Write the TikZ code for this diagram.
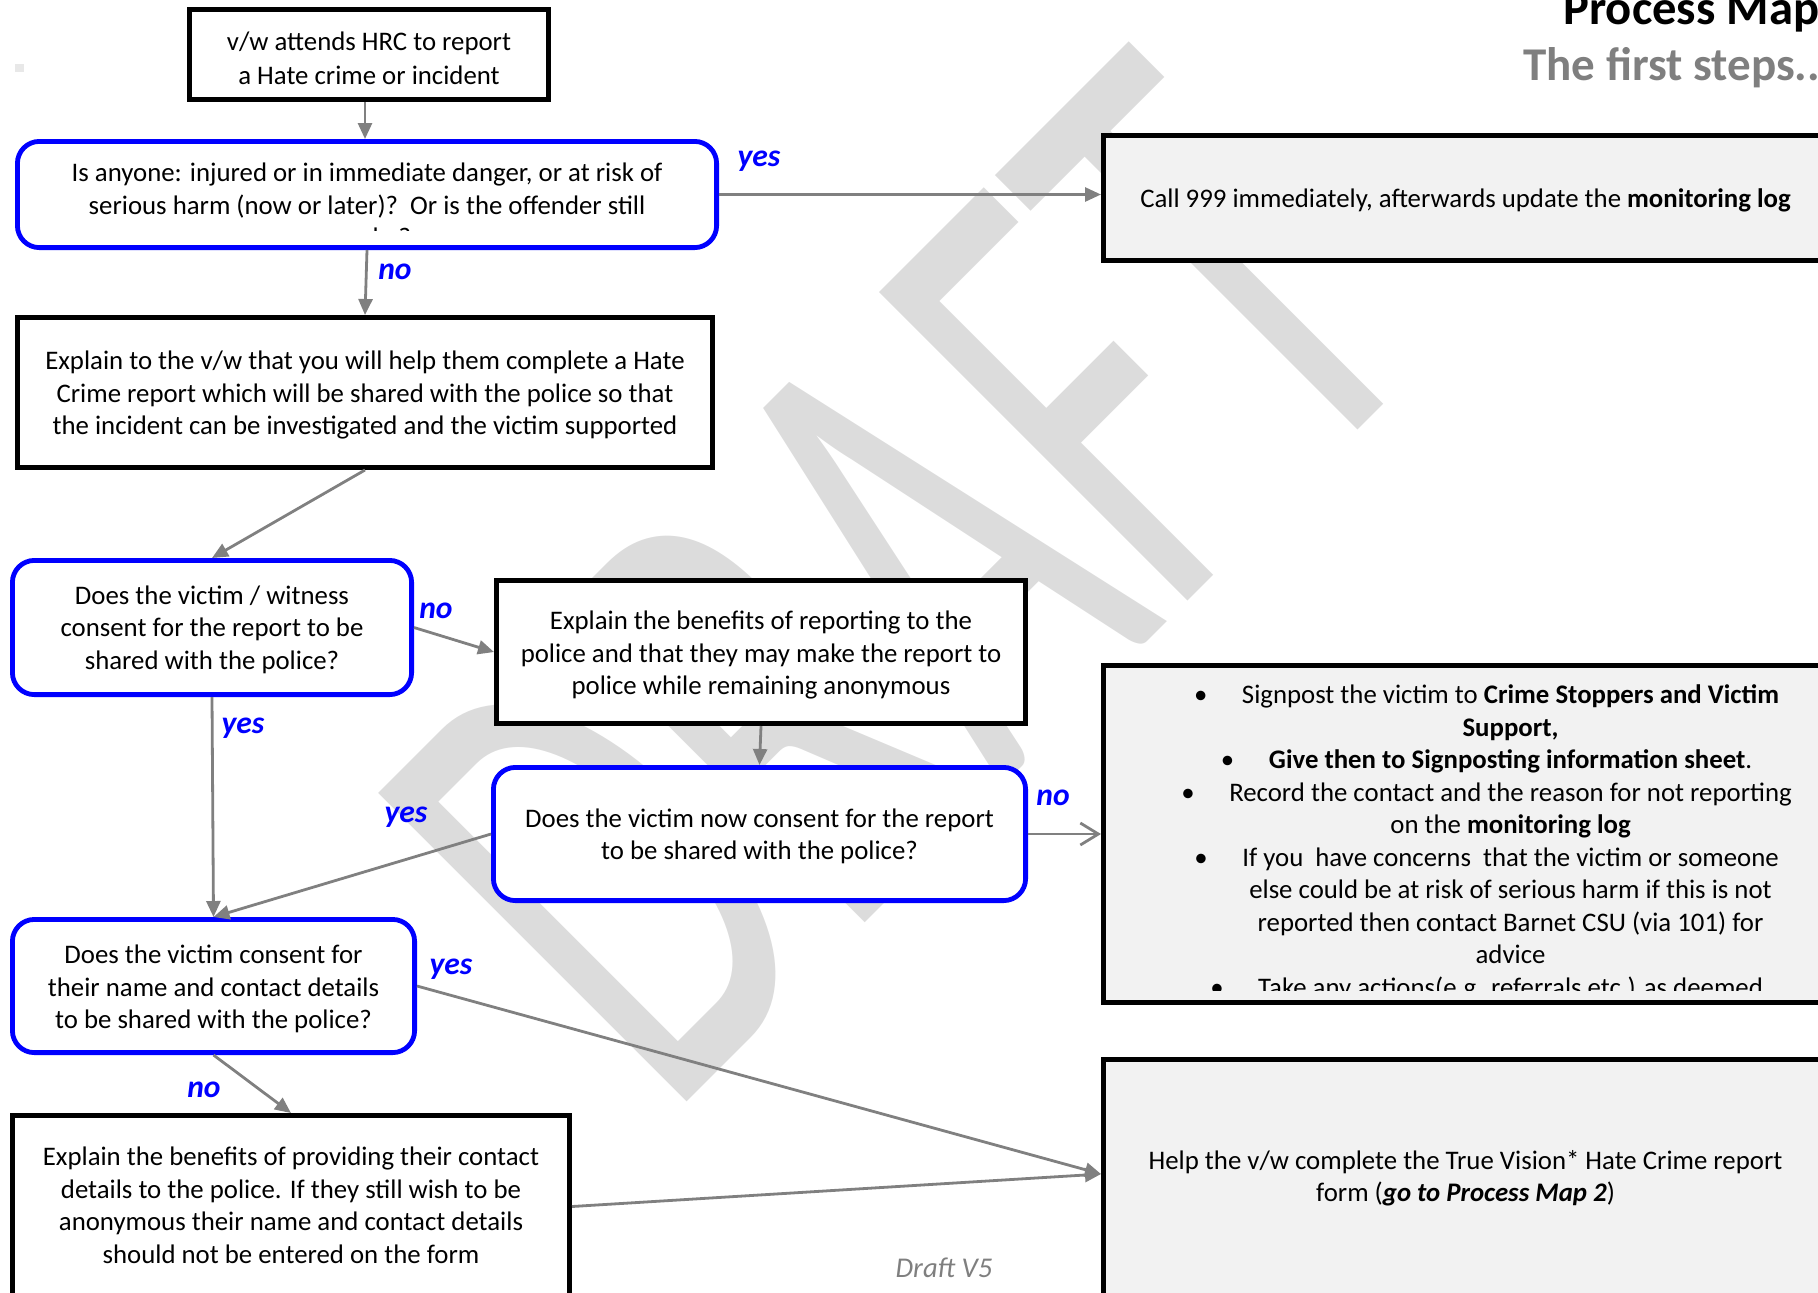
\documentclass[tikz,border=0pt]{standalone}
\usepackage{fontspec}
\setmainfont{Carlito}
\usetikzlibrary{arrows.meta,calc}
\definecolor{wm}{RGB}{220,220,220}
\definecolor{boxgray}{RGB}{242,242,242}
\definecolor{ttl}{RGB}{127,127,127}
\definecolor{ln}{RGB}{128,128,128}
\definecolor{bl}{RGB}{0,0,255}
\newcommand{\bul}{\llap{\textbullet\hspace{17.3pt}}}
\begin{document}
\begin{tikzpicture}[x=0.5pt,y=-0.5pt,
  txt/.style={font=\fontsize{13.4}{16.25}\selectfont, align=center, inner sep=0pt},
  blk/.style={draw=black, line width=2.4pt, fill=white, inner sep=0pt},
  gbox/.style={blk, fill=boxgray},
  blu/.style={draw=bl, line width=2.4pt, rounded corners=11pt, fill=white, inner sep=0pt},
  conn/.style={draw=ln, line width=1.4pt, -{Triangle[length=8pt,width=7pt]}},
  openconn/.style={draw=ln, line width=1.4pt, -{Straight Barb[length=9pt,width=11pt]}},
  lab/.style={text=bl, font=\fontsize{15.8}{18}\selectfont\bfseries\itshape, inner sep=0pt},
]
\useasboundingbox (0,0) rectangle (1818,1292);
\clip (0,0) rectangle (1818,1292);

% watermark
\node[text=wm, inner sep=0pt] (wm) at (900,580) {\rotatebox{45}{\scalebox{0.6}[1]{\fontsize{340}{340}\selectfont DRAFT}}};
\node[fill=gray!18, minimum width=4.5pt, minimum height=4pt, inner sep=0pt] (spk) at (19.5,68) {};

% titles
\node[anchor=base west, font=\fontsize{24.3}{28}\selectfont\bfseries, inner sep=0pt] (t1) at (1563,24) {Process Map};
\node[anchor=base west, font=\fontsize{23.5}{28}\selectfont\bfseries, text=ttl, inner sep=0pt] (t2) at (1523,80) {The first steps..};

% box shapes
\node[blk, minimum width=179.6pt, minimum height=45.1pt] (b1) at (369,54.5) {};
\node[blu, minimum width=349.6pt, minimum height=53.1pt] (b2) at (367,194.5) {};
\node[gbox, minimum width=362.1pt, minimum height=62.6pt] (c999) at (1465.5,198) {};
\node[blk, minimum width=347.6pt, minimum height=75.1pt] (b3) at (365,392.5) {};
\node[blu, minimum width=199.6pt, minimum height=67.1pt] (b4) at (212,627.5) {};
\node[blk, minimum width=264.6pt, minimum height=71.6pt] (b5) at (761,652) {};
\node[blu, minimum width=266.1pt, minimum height=66.6pt] (b6) at (759.5,834) {};
\node[gbox, minimum width=407.1pt, minimum height=168.6pt] (b8) at (1510.5,834) {};
\node[blu, minimum width=201.1pt, minimum height=66.6pt] (b7) at (213.5,986) {};
\node[blk, minimum width=278.6pt, minimum height=91.1pt] (b9) at (291,1206.5) {};
\node[gbox, minimum width=362.1pt, minimum height=119.1pt] (b10) at (1465.5,1178.5) {};

% box texts
\node[txt, font=\fontsize{13.4}{17}\selectfont] (b1t) at (369,58) {v/w attends HRC to report\\a Hate crime or incident};
\begin{scope}
\clip (20,144) rectangle (714,230);
\node[txt] (b2t) at (367,207) {Is anyone: injured or in immediate danger, or at risk of\\serious harm (now or later)?\ \ Or is the offender still\\nearby?};
\end{scope}
\node[txt] (c999t) at (1465.5,200) {Call 999 immediately, afterwards update the \textbf{monitoring log}};
\node[txt] (b3t) at (365,395) {Explain to the v/w that you will help them complete a Hate\\Crime report which will be shared with the police so that\\the incident can be investigated and the victim supported};
\node[txt] (b4t) at (212,629.5) {Does the victim / witness\\consent for the report to be\\shared with the police?};
\node[txt] (b5t) at (761,655) {Explain the benefits of reporting to the\\police and that they may make the report to\\police while remaining anonymous};
\node[txt] (b6t) at (759.5,836.5) {Does the victim now consent for the report\\to be shared with the police?};
\begin{scope}
\clip (1106,668) rectangle (1818,990);
\node[txt] (b8t) at (1510.5,843) {\bul Signpost the victim to \textbf{Crime Stoppers and Victim}\\\textbf{Support,}\\\bul\textbf{Give then to Signposting information sheet}.\\\bul Record the contact and the reason for not reporting\\on the \textbf{monitoring log}\\\bul If you\ \ have concerns\ \ that the victim or someone\\else could be at risk of serious harm if this is not\\reported then contact Barnet CSU (via 101) for\\advice\\\bul Take any actions(e.g. referrals etc.) as deemed};
\end{scope}
\node[txt] (b7t) at (213.5,989) {Does the victim consent for\\their name and contact details\\to be shared with the police?};
\node[txt] (b9t) at (291,1205.5) {Explain the benefits of providing their contact\\details to the police. If they still wish to be\\anonymous their name and contact details\\should not be entered on the form};
\node[txt] (b10t) at (1465.5,1178) {Help the v/w complete the True Vision* Hate Crime report\\form (\textbf{\textit{go to Process Map 2}})};

\node[anchor=base, text=ttl, font=\fontsize{14.3}{16}\selectfont\itshape, inner sep=0pt] (dv) at (944,1277) {Draft V5};

% connectors
\draw[conn] ([xshift=-2pt]b1.south) -- ([xshift=-2pt]b1.south |- b2.north);
\draw[conn] (b2.east) -- (b2.east -| c999.west);
\draw[conn] (b2.south) -- (b3.north);
\draw[conn] (b3.south) -- (b4.north);
\draw[conn] (b4.east) -- (b5.west);
\draw[conn] (b5.south) -- (b6.north);
\draw[openconn] (b6.east) -- (b8.west);
\draw[conn] (b6.west) -- (b7.north);
\draw[conn] (b4.south) -- (b7.north);
\draw[conn] (b7.south) -- (b9.north);
\coordinate (b10in) at ([yshift=2.25pt]b10.west);
\draw[conn] (b7.east) -- (b10in);
\draw[conn] (b9.east) -- (b10in);

% labels
\node[lab] (l1) at (759,161) {yes};
\node[lab] (l2) at (395,272) {no};
\node[lab] (l3) at (436,611) {no};
\node[lab] (l4) at (1053,798) {no};
\node[lab] (l5) at (406,817) {yes};
\node[lab] (l6) at (243,728) {yes};
\node[lab] (l7) at (451,969) {yes};
\node[lab] (l8) at (204,1090) {no};
\end{tikzpicture}
\end{document}
